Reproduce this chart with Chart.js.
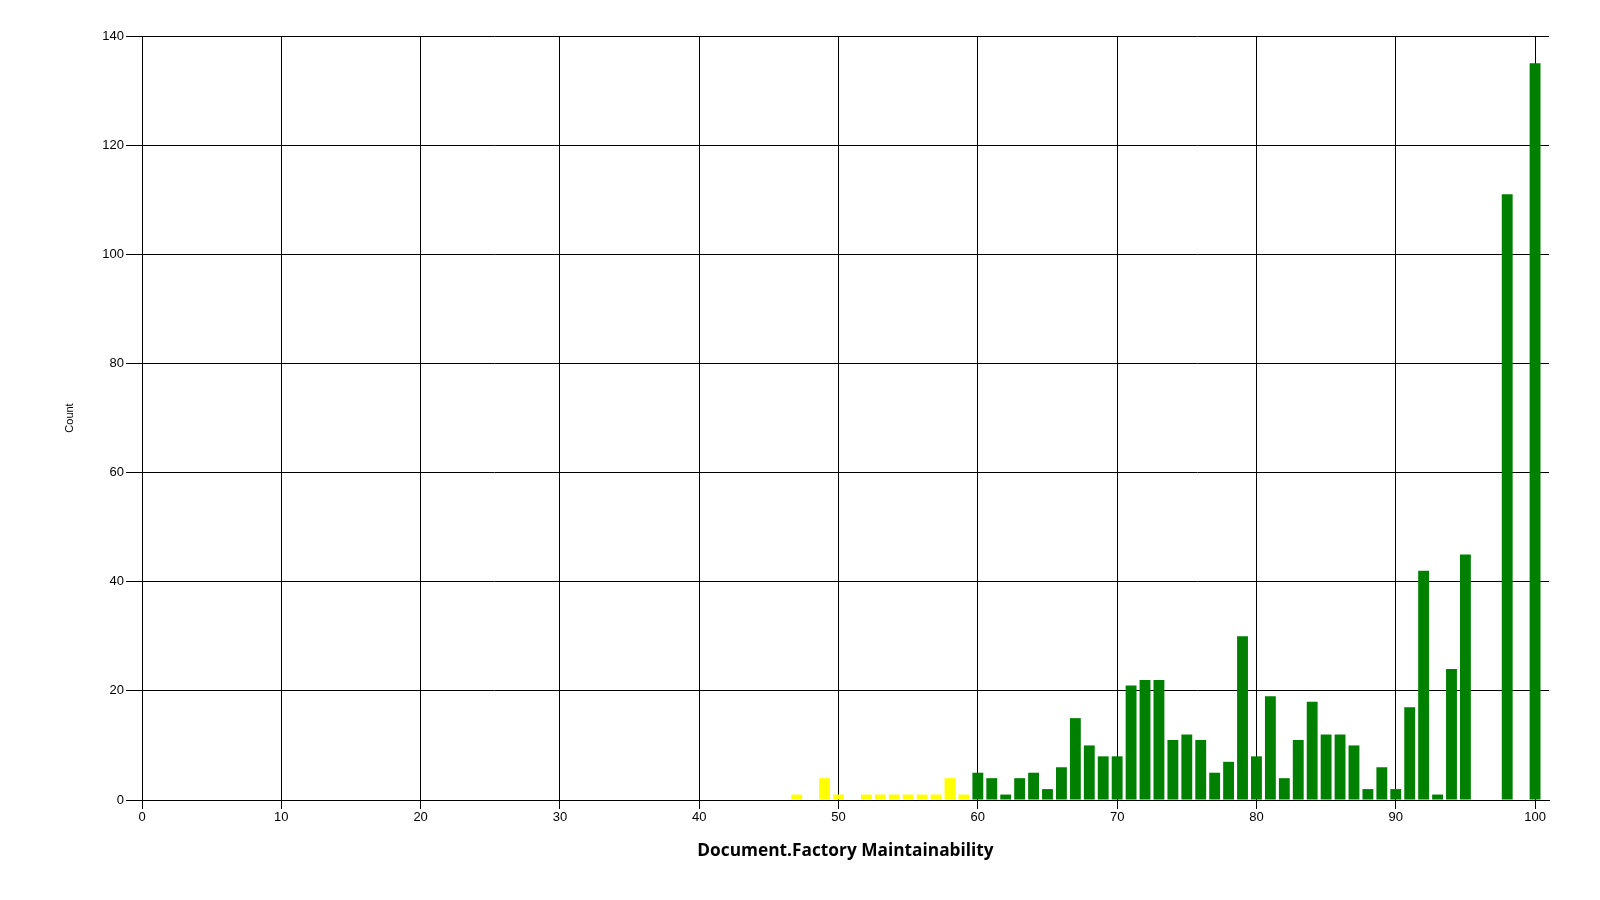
<!DOCTYPE html>
<html>
<head>
<meta charset="utf-8">
<script src="https://cdn.jsdelivr.net/npm/chart.js@4.4.1/dist/chart.umd.min.js"></script>
<style>
  html, body { margin: 0; padding: 0; background: #ffffff; }
  canvas { display: block; }
</style>
</head>
<body>
<canvas id="c" width="1600" height="900"></canvas>
<script>
// Maintainability index values (x) and their counts (y)
const maintainability = [47, 49, 50, 52, 53, 54, 55, 56, 57, 58, 59,
  60, 61, 62, 63, 64, 65, 66, 67, 68, 69, 70,
  71, 72, 73, 74, 75, 76, 77, 78, 79, 80,
  81, 82, 83, 84, 85, 86, 87, 88, 89, 90,
  91, 92, 93, 94, 95, 98, 100];
const counts = [1, 4, 1, 1, 1, 1, 1, 1, 1, 4, 1,
  5, 4, 1, 4, 5, 2, 6, 15, 10, 8, 8,
  21, 22, 22, 11, 12, 11, 5, 7, 30, 8,
  19, 4, 11, 18, 12, 12, 10, 2, 6, 2,
  17, 42, 1, 24, 45, 111, 135];
const xTicks = [0, 10, 20, 30, 40, 50, 60, 70, 80, 90, 100];
const yTicks = [0, 20, 40, 60, 80, 100, 120, 140];
const warningThreshold = 60;
const xTitle = 'Document.Factory Maintainability';
const yTitle = 'Count';

const points = maintainability.map((x, i) => ({ x: x, y: counts[i] }));

new Chart(document.getElementById('c'), {
  type: 'bar',
  data: {
    datasets: [{
      label: yTitle,
      data: points,
      backgroundColor: ctx => (ctx.raw && ctx.raw.x < warningThreshold) ? '#ffff00' : '#008000',
      borderWidth: 0,
      categoryPercentage: 1.0,
      barPercentage: 0.78
    }]
  },
  options: {
    responsive: false,
    animation: false,
    layout: { padding: { top: 36, right: 51, left: 0, bottom: 0 } },
    plugins: { legend: { display: false }, tooltip: { enabled: false } },
    scales: {
      x: {
        type: 'linear',
        min: 0,
        max: 101,
        offset: false,
        afterFit: s => { s.height = 100; },
        afterBuildTicks: s => { s.ticks = xTicks.map(v => ({ value: v })); },
        ticks: {
          includeBounds: false,
          stepSize: 10,
          autoSkip: false,
          maxRotation: 0,
          padding: 1,
          color: '#000',
          font: { family: 'Liberation Sans, Arial, sans-serif', size: 13 }
        },
        grid: { color: '#000', lineWidth: 1, tickLength: 9, offset: false, tickColor: '#000' },
        border: { display: true, color: '#000', width: 1 },
        title: {
          display: true,
          text: xTitle,
          color: '#000',
          font: { family: 'Open Sans, Noto Sans, sans-serif', size: 17.3, weight: 'bold' },
          padding: { top: 0, bottom: 39 }
        }
      },
      y: {
        min: 0,
        max: 140,
        afterFit: s => { s.width = 142; },
        afterBuildTicks: s => { s.ticks = yTicks.map(v => ({ value: v })); },
        ticks: {
          stepSize: 20,
          padding: 2,
          color: '#000',
          font: { family: 'Liberation Sans, Arial, sans-serif', size: 13 }
        },
        grid: { color: '#000', lineWidth: 1, tickLength: 16, tickColor: '#000' },
        border: { display: true, color: '#000', width: 1 },
        title: {
          display: true,
          text: yTitle,
          color: '#000',
          font: { family: 'Liberation Sans, Arial, sans-serif', size: 11 },
          padding: { top: 63, bottom: 0 }
        }
      }
    }
  }
});
</script>
</body>
</html>
